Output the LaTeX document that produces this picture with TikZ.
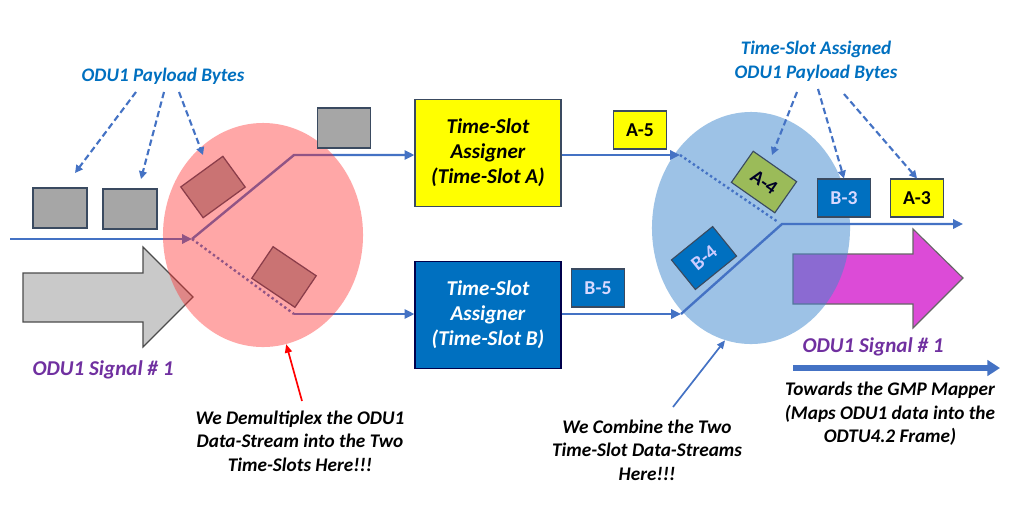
\documentclass[tikz,border=0pt]{standalone}
\usepackage{fontspec}
\setmainfont{Carlito}
\usetikzlibrary{arrows.meta,shapes.geometric}
\definecolor{lineblue}{HTML}{4472C4}
\definecolor{lblblue}{HTML}{0070C0}
\definecolor{boxblue}{HTML}{0070C0}
\definecolor{boxyellow}{HTML}{FFFF00}
\definecolor{boxgreen}{HTML}{9BBB59}
\definecolor{boxgray}{HTML}{A6A6A6}
\definecolor{sigpurple}{HTML}{7030A0}
\definecolor{magent}{HTML}{DC4BD7}
\definecolor{edgedark}{HTML}{3A4A60}
\definecolor{pinkfill}{HTML}{FF2B2B}
\definecolor{bluefill}{HTML}{3F89CE}
\begin{document}
\begin{tikzpicture}[x=0.025cm,y=-0.025cm,
  flow/.style={draw=lineblue,line width=1.7pt},
  tipA/.style={-{Triangle[length=7pt,width=6.5pt]}},
  dotflow/.style={draw=lineblue,line width=1.7pt,dash pattern=on 1.7pt off 2pt},
  dashptr/.style={draw=lineblue,line width=1.5pt,dash pattern=on 4.5pt off 2.5pt,-{Triangle[length=5.5pt,width=5.5pt]}},
  bigbox/.style={draw=edgedark,line width=0.8pt,minimum width=3.65cm,minimum height=2.675cm,align=center,
     font=\fontsize{15}{17.8}\selectfont\bfseries\itshape,inner sep=0pt},
  tag/.style={draw=edgedark,line width=0.8pt,minimum width=1.325cm,minimum height=0.95cm,inner sep=0pt,
     font=\fontsize{14}{16}\selectfont\bfseries},
  byte/.style={draw=edgedark,fill=boxgray,line width=0.9pt,minimum width=1.35cm,minimum height=1cm,inner sep=0pt},
  rbyte/.style={draw=edgedark,fill=boxgray,line width=0.9pt,minimum width=1.3cm,minimum height=0.95cm,inner sep=0pt},
  note/.style={align=center,font=\fontsize{13.7}{16.8}\selectfont\bfseries\itshape},
  bluelbl/.style={align=center,text=lblblue,font=\fontsize{13.6}{17}\selectfont\bfseries\itshape},
  siglbl/.style={text=sigpurple,font=\fontsize{15}{17}\selectfont\bfseries\itshape}
]
\useasboundingbox (0,0) rectangle (1024,509);
\fill[white] (0,0) rectangle (1024,509);

% big input arrow (grey)
\draw[fill=black!21,draw=black!70,line width=0.8pt,line join=miter]
  (23,273) -- (143,273) -- (143,247) -- (193,297) -- (143,347) -- (143,322) -- (23,322) -- cycle;
% big output arrow (magenta)
\draw[fill=magent,draw=black!60,line width=0.8pt,line join=miter]
  (793,254) -- (913,254) -- (913,229) -- (963,278) -- (913,328) -- (913,304) -- (793,304) -- cycle;

% left stream
\coordinate (in) at (10,239);
\coordinate (split) at (192,239);
\coordinate (up) at (294,155);
\coordinate (dn) at (294,314);
\node[bigbox,fill=boxyellow,text=black] (ya) at (488,153) {Time-Slot\\Assigner\\(Time-Slot A)};
\node[bigbox,fill=boxblue,text=white,draw=black!70!blue] (yb) at (488,315) {Time-Slot\\Assigner\\(Time-Slot B)};
\draw[flow,tipA] (in) -- (split);
\draw[flow,tipA] (split) -- (up) -- (up -| ya.west);
\draw[dotflow] (split) -- (dn);
\draw[flow,tipA] (dn) -- (dn -| yb.west);

% byte boxes left
\node[byte] (g1) at (60,208) {};
\node[byte] (g2) at (130,209) {};
\node[rbyte,rotate=36] (g4) at (213,187) {};
\node[rbyte,rotate=-34] (g5) at (284,277) {};

% pink circle
\node[ellipse,fill=pinkfill,fill opacity=0.41,minimum width=5cm,minimum height=5.6cm,inner sep=0pt] (pc) at (263,235) {};
\node[byte,minimum width=1.325cm] (g3) at (344,128) {};

% label top left
\node[bluelbl] (plb) at (163,76) {ODU1 Payload Bytes};
\coordinate (p1s) at (136,92); \coordinate (p1e) at (75,173);
\coordinate (p2s) at (164,92); \coordinate (p2e) at (141,179);
\coordinate (p3s) at (179,92); \coordinate (p3e) at (203,155);
\draw[dashptr] (p1s) -- (p1e);
\draw[dashptr] (p2s) -- (p2e);
\draw[dashptr] (p3s) -- (p3e);

% blue circle
\node[ellipse,fill=bluefill,fill opacity=0.51,minimum width=4.95cm,minimum height=5.8cm,inner sep=0pt] (bc) at (751,228) {};

% right stream
\coordinate (ma) at (680,155);
\coordinate (mb) at (681,314);
\coordinate (join) at (782,224);
\coordinate (out) at (963,224);
\draw[flow,tipA] (ya.east |- ma) -- (ma);
\draw[flow,tipA] (yb.east |- mb) -- (mb);
\draw[dotflow] (ma) -- (778,222);
\draw[flow,tipA] (mb) -- (join) -- (out);

% tags
\node[tag,fill=boxyellow] (a5) at (640,130) {A-5};
\node[tag,fill=boxblue,text=white!85!blue] (b5) at (598,288) {B-5};
\node[tag,fill=boxgreen,text=black!85!blue,rotate=-35] (a4) at (764,182) {A-4};
\node[tag,fill=boxblue,text=white!80!blue,rotate=39] (b4) at (704,258) {B-4};
\node[tag,fill=boxblue,text=white!85!blue] (b3) at (844,198) {B-3};
\node[tag,fill=boxyellow] (a3) at (917,198) {A-3};

% label top right
\node[bluelbl] (tlb) at (816,61) {Time-Slot Assigned\\ODU1 Payload Bytes};
\coordinate (q1s) at (797,92);
\coordinate (q2s) at (818,89);
\coordinate (q3s) at (844,94);
\draw[dashptr] (q1s) -- (772,155);
\draw[dashptr] (q2s) -- (b3.north);
\draw[dashptr] (q3s) -- (a3.north);

% signal labels
\node[siglbl] (sig1) at (103,370) {ODU1 Signal \# 1};
\node[siglbl] (sig2) at (873,347) {ODU1 Signal \# 1};
\coordinate (gs) at (793,368); \coordinate (ge) at (1000,368);
\draw[draw=lineblue,line width=4pt,-{Triangle[length=9pt,width=11pt]}] (gs) -- (ge);

% notes
\node[note] (demux) at (300,441) {We Demultiplex the ODU1\\Data-Stream into the Two\\Time-Slots Here!!!};
\node[note] (comb) at (647,450) {We Combine the Two\\Time-Slot Data-Streams\\Here!!!};
\node[note] (gmp) at (890,414) {Towards the GMP Mapper\\(Maps ODU1 data into the\\ODTU4.2 Frame)};
\coordinate (rs) at (302,401);
\coordinate (bs) at (673,407);
\draw[red,line width=1.2pt,-{Triangle[length=6pt,width=5pt]}] (rs) -- (pc.-78);
\draw[lineblue,line width=1.2pt,-{Triangle[length=6pt,width=5pt]}] (bs) -- (bc.-103);
\end{tikzpicture}
\end{document}
